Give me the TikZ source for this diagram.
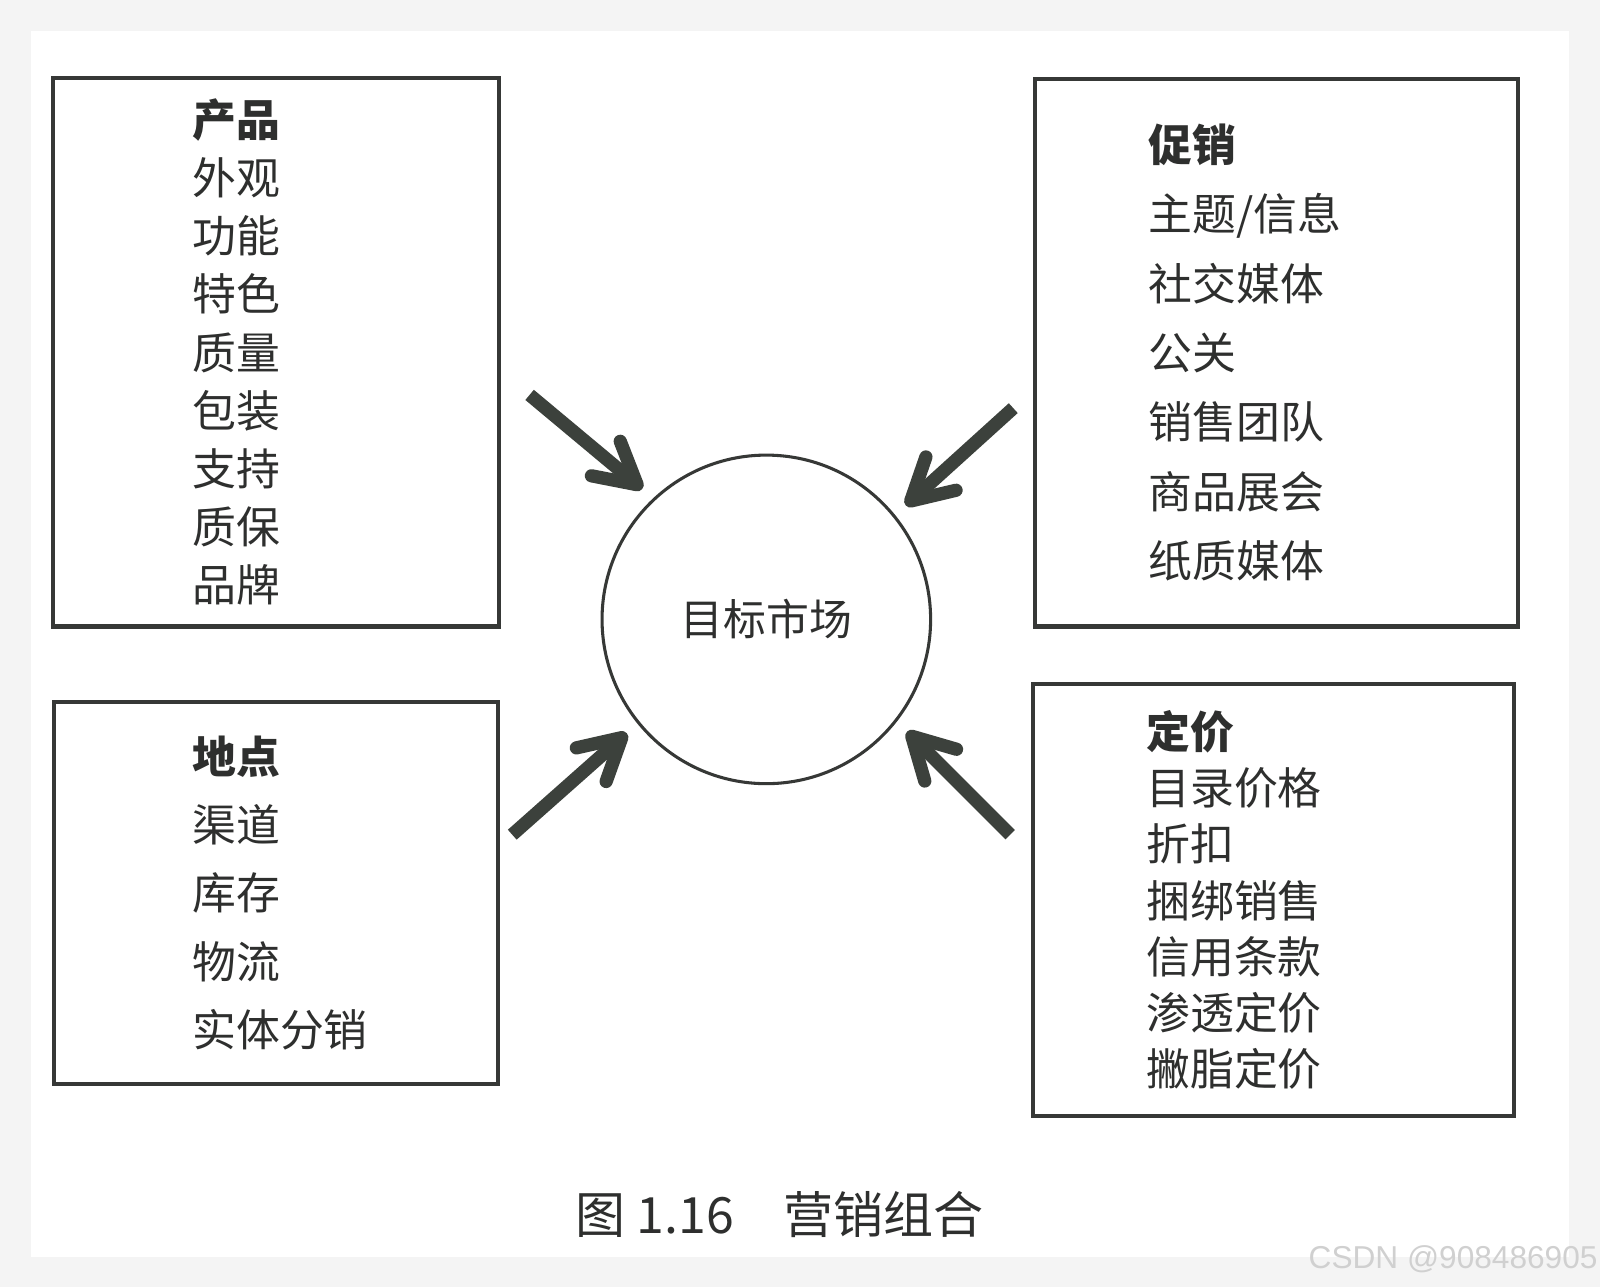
\documentclass[tikz,border=0pt]{standalone}
\usepackage{fontspec}
\setmainfont{Noto Sans CJK SC}
\newfontfamily\wmfont{Liberation Sans}
\usetikzlibrary{positioning,arrows.meta}
\definecolor{mkink}{HTML}{2E2F2E}
\definecolor{mkline}{HTML}{363836}
\definecolor{mkarrow}{HTML}{3C413C}
\definecolor{mkshade}{HTML}{F4F4F4}
\definecolor{mkmark}{HTML}{D0D0D0}

\begin{document}
\begin{tikzpicture}[x=0.5pt, y=-0.5pt,
  mixbox/.style={draw=mkline, line width=2pt, inner sep=0pt, anchor=north west},
  mixlist/.style={text=mkink, align=left, inner sep=0pt},
  pushline/.style={draw=mkarrow, line width=6.5pt, shorten >=7pt, -{Straight Barb[length=20pt, width=22pt, round]}}]
  \useasboundingbox (0,0) rectangle (1568,1261);
  \fill[mkshade] (0,0) rectangle (1568,1261);
  \fill[white] (30,30) rectangle (1538,1232);

  \node[mixbox, minimum width=218.5pt, minimum height=269pt] (prod) at (50,74) {};
  \node[mixbox, minimum width=237pt, minimum height=268.5pt] (promo) at (1012,75) {};
  \node[mixbox, minimum width=217.5pt, minimum height=187pt] (place) at (51,686) {};
  \node[mixbox, minimum width=236pt, minimum height=212pt] (price) at (1010,668) {};

  \node[mixlist, font=\fontsize{21.5pt}{28.5pt}\selectfont, right=69pt of prod.west] (prodlist) {\textbf{产品}\\外观\\功能\\特色\\质量\\包装\\支持\\质保\\品牌};
  \node[mixlist, font=\fontsize{21.5pt}{34pt}\selectfont, right=56.5pt of promo.west] (promolist) {\textbf{促销}\\主题/信息\\社交媒体\\公关\\销售团队\\商品展会\\纸质媒体};
  \node[mixlist, font=\fontsize{21.5pt}{33.5pt}\selectfont, right=68.5pt of place.west] (placelist) {\textbf{地点}\\渠道\\库存\\物流\\实体分销};
  \node[mixlist, font=\fontsize{21.5pt}{27.5pt}\selectfont, right=56.5pt of price.west] (pricelist) {\textbf{定价}\\目录价格\\折扣\\捆绑销售\\信用条款\\渗透定价\\撇脂定价};

  \node[circle, draw=mkline, line width=1.5pt, minimum size=161pt, inner sep=0pt, text=mkink, font=\fontsize{21pt}{25pt}\selectfont] (market) at (751,607) {目标市场};

  \coordinate (prodtail) at (519,387);
  \coordinate (promotail) at (993,400);
  \coordinate (placetail) at (502,818);
  \coordinate (pricetail) at (990,818);
  \draw[pushline] (prodtail) -- (market.133);
  \draw[pushline] (promotail) -- (market.39);
  \draw[pushline] (placetail) -- (market.219);
  \draw[pushline] (pricetail) -- (market.322);

  \node[text=mkink, font=\fontsize{24.5pt}{30pt}\selectfont] (caption) at (764,1190) {图 1.16　营销组合};
  \node[text=mkmark, font=\wmfont\fontsize{15.5pt}{18pt}\selectfont, anchor=east, inner sep=0pt] (mark) at (1566,1234) {CSDN @908486905};
\end{tikzpicture}
\end{document}
